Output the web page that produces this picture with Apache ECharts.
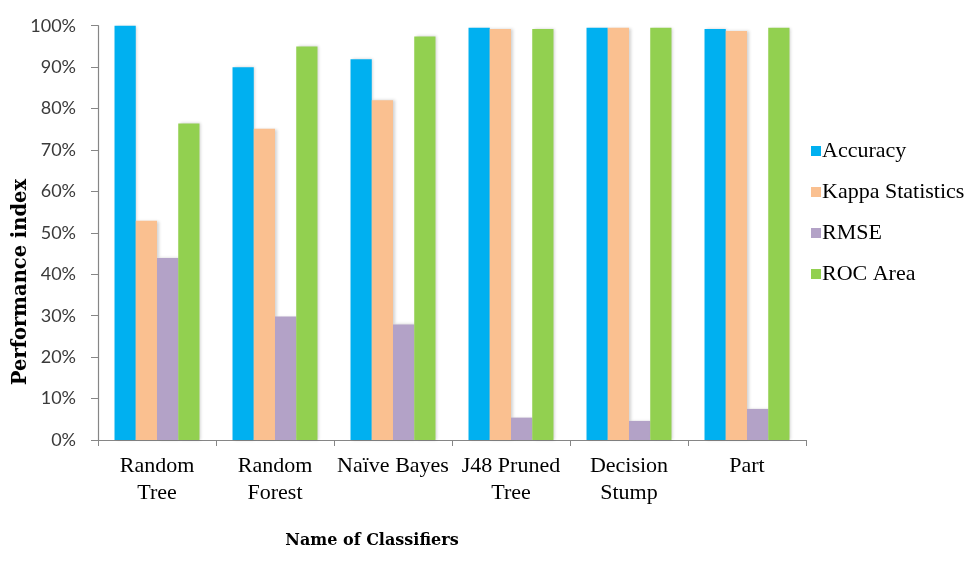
<!DOCTYPE html>
<html>
<head>
<meta charset="utf-8">
<script src="https://cdn.jsdelivr.net/npm/echarts@6/dist/echarts.min.js"></script>
<style>
  html, body { margin: 0; padding: 0; background: #ffffff; }
  #chart { width: 974px; height: 561px; }
</style>
</head>
<body>
<div id="chart"></div>
<script>
// Classifier names shown along the x axis
const classifiers = ['Random\nTree', 'Random\nForest', 'Naïve Bayes', 'J48 Pruned\nTree', 'Decision\nStump', 'Part'];

// Performance metrics per classifier (percent)
const accuracy = [100, 90.0, 91.9, 99.5, 99.5, 99.2];
const kappa    = [52.9, 75.1, 82.0, 99.2, 99.5, 98.7];
const rmse     = [43.9, 29.8, 27.9, 5.4, 4.6, 7.5];
const rocArea  = [76.4, 95.0, 97.4, 99.2, 99.5, 99.5];

const seriesNames = ['Accuracy', 'Kappa Statistics', 'RMSE', 'ROC Area'];
const seriesColors = ['#00B0F0', '#FAC090', '#B3A2C7', '#92D050'];
const seriesData = [accuracy, kappa, rmse, rocArea];

const xTitle = 'Name of Classifiers';
const yTitle = 'Performance index';

const chart = echarts.init(document.getElementById('chart'));

const axisColor = '#868686';

chart.setOption({
  backgroundColor: '#ffffff',
  animation: false,
  legend: {
    orient: 'vertical',
    left: 806,
    top: 135,
    itemWidth: 10,
    itemHeight: 10,
    itemGap: 19,
    icon: 'rect',
    data: seriesNames,
    textStyle: {
      fontFamily: 'Liberation Serif',
      fontSize: 22,
      color: '#000000',
      padding: [0, 0, 0, -4]
    }
  },
  graphic: [
    {
      type: 'text',
      x: 372,
      y: 541,
      style: {
        text: xTitle,
        fontFamily: 'DejaVu Serif',
        fontWeight: 'bold',
        fontSize: 16,
        fill: '#000000',
        align: 'center',
        verticalAlign: 'middle'
      }
    },
    {
      type: 'text',
      x: 21,
      y: 282,
      rotation: Math.PI / 2,
      style: {
        text: yTitle,
        fontFamily: 'DejaVu Serif',
        fontWeight: 'bold',
        fontSize: 19.5,
        fill: '#000000',
        align: 'center',
        verticalAlign: 'middle'
      }
    }
  ],
  grid: {
    left: 98,
    right: 168,
    top: 25.7,
    bottom: 121,
    containLabel: false,
    outerBoundsMode: 'none'
  },
  xAxis: {
    type: 'category',
    data: classifiers,
    axisLine: { lineStyle: { color: axisColor, width: 1.2 } },
    axisTick: { show: true, interval: 0, length: 6, lineStyle: { color: axisColor } },
    axisLabel: {
      interval: 0,
      margin: 13,
      fontFamily: 'Liberation Serif',
      fontSize: 22,
      lineHeight: 27,
      color: '#000000'
    },
    splitLine: { show: false }
  },
  yAxis: {
    type: 'value',
    min: 0,
    max: 100,
    interval: 10,
    axisLine: { show: true, lineStyle: { color: axisColor, width: 1.2 } },
    axisTick: { show: true, length: 7, lineStyle: { color: axisColor } },
    axisLabel: {
      formatter: '{value}%',
      margin: 22,
      fontFamily: 'Lato',
      fontSize: 18,
      color: '#3a3a3a'
    },
    splitLine: { show: false }
  },
  series: seriesNames.map((name, i) => ({
    name: name,
    type: 'bar',
    data: seriesData[i],
    barGap: '0%',
    barCategoryGap: '28%',
    itemStyle: {
      color: seriesColors[i],
      shadowColor: 'rgba(0,0,0,0.18)',
      shadowBlur: 3,
      shadowOffsetX: 1.5,
      shadowOffsetY: 0
    }
  }))
});
</script>
</body>
</html>
